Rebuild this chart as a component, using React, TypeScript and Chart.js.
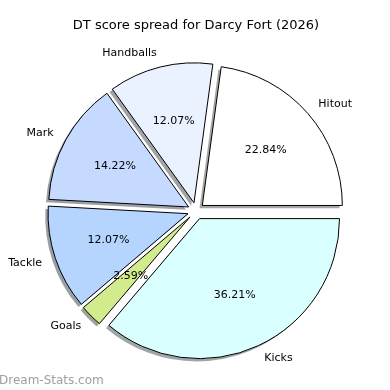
import React, { useEffect, useRef } from "react";
import { Chart, registerables } from "chart.js";

Chart.register(...registerables);

const TITLE = "DT score spread for Darcy Fort (2026)";
const WATERMARK = "Dream-Stats.com";
// clockwise on screen, starting at 3 o'clock
const categories = ["Kicks", "Goals", "Tackle", "Mark", "Handballs", "Hitout"];
const scores = [84, 6, 28, 33, 28, 53];
const sliceColors = ["#d9ffff", "#d2eb8c", "#b5d5ff", "#c6d9ff", "#eaf1ff", "#ffffff"];

const FONT = "'DejaVu Sans', Verdana, sans-serif";
const EXPLODE = 8.4;
const SHADOW_DX = -2.8;
const SHADOW_DY = 2.8;
const LABEL_DIST = 1.1;
const PCT_DIST = 0.6;

function shadowColor(hex: string): string {
  const n = parseInt(hex.slice(1), 16);
  const r = Math.round(((n >> 16) & 255) * 0.3);
  const g = Math.round(((n >> 8) & 255) * 0.3);
  const b = Math.round((n & 255) * 0.3);
  return `rgba(${r},${g},${b},0.5)`;
}

const explodedPie = {
  id: "explodedPie",
  beforeDatasetDraw(chart: any, args: any) {
    const ctx: CanvasRenderingContext2D = chart.ctx;
    const arcs = args.meta.data;
    arcs.forEach((arc: any, i: number) => {
      const { x, y, startAngle, endAngle, outerRadius } = arc.getProps(
        ["x", "y", "startAngle", "endAngle", "outerRadius"],
        true
      );
      const mid = (startAngle + endAngle) / 2;
      const cx = x + Math.cos(mid) * EXPLODE + SHADOW_DX;
      const cy = y + Math.sin(mid) * EXPLODE + SHADOW_DY;
      const col = shadowColor(sliceColors[i]);
      ctx.save();
      ctx.beginPath();
      ctx.moveTo(cx, cy);
      ctx.arc(cx, cy, outerRadius, startAngle, endAngle);
      ctx.closePath();
      ctx.fillStyle = col;
      ctx.fill();
      ctx.restore();
    });
    arcs.forEach((arc: any) => {
      const { startAngle, endAngle } = arc.getProps(["startAngle", "endAngle"], true);
      const mid = (startAngle + endAngle) / 2;
      ctx.save();
      ctx.translate(Math.cos(mid) * EXPLODE, Math.sin(mid) * EXPLODE);
      arc.draw(ctx);
      ctx.restore();
    });
    return false;
  },
  afterDatasetsDraw(chart: any) {
    const ctx: CanvasRenderingContext2D = chart.ctx;
    const meta = chart.getDatasetMeta(0);
    const total = scores.reduce((a, b) => a + b, 0);
    ctx.save();
    ctx.fillStyle = "#000";
    ctx.textBaseline = "middle";
    ctx.font = `11px ${FONT}`;
    meta.data.forEach((arc: any, i: number) => {
      const { x, y, startAngle, endAngle, outerRadius } = arc.getProps(
        ["x", "y", "startAngle", "endAngle", "outerRadius"],
        true
      );
      const mid = (startAngle + endAngle) / 2;
      const ex = x + Math.cos(mid) * EXPLODE;
      const ey = y + Math.sin(mid) * EXPLODE;
      const lx = ex + Math.cos(mid) * outerRadius * LABEL_DIST;
      const ly = ey + Math.sin(mid) * outerRadius * LABEL_DIST;
      ctx.textAlign = Math.cos(mid) > 0 ? "left" : "right";
      ctx.fillText(categories[i], lx, ly);
      const px = ex + Math.cos(mid) * outerRadius * PCT_DIST;
      const py = ey + Math.sin(mid) * outerRadius * PCT_DIST;
      ctx.textAlign = "center";
      ctx.fillText(((scores[i] / total) * 100).toFixed(2) + "%", px, py);
    });
    ctx.font = `12px ${FONT}`;
    ctx.fillStyle = "#a0a0a0";
    ctx.textAlign = "left";
    ctx.textBaseline = "alphabetic";
    ctx.fillText(WATERMARK, -1, 384);
    ctx.restore();
  },
};

export default function App() {
  const ref = useRef<HTMLCanvasElement>(null);
  useEffect(() => {
    if (!ref.current) return;
    const chart = new Chart(ref.current, {
      type: "pie",
      data: {
        labels: categories,
        datasets: [
          {
            data: scores,
            backgroundColor: sliceColors,
            borderColor: "#000",
            borderWidth: 1,
          },
        ],
      },
      options: {
        responsive: false,
        animation: false,
        rotation: 90,
        radius: 140,
        layout: { padding: { top: 0, bottom: 1.6, left: 2, right: 0 } },
        plugins: {
          legend: { display: false },
          tooltip: { enabled: false },
          title: {
            display: true,
            text: TITLE,
            color: "#000",
            font: { family: FONT, size: 13, weight: "normal" },
            padding: { top: 18, bottom: 0 },
          },
        },
      },
      plugins: [explodedPie],
    } as any);
    return () => chart.destroy();
  }, []);
  return (
    <div style={{ position: "absolute", left: 0, top: 0, width: 390, height: 390, background: "#fff" }}>
      <canvas ref={ref} width={390} height={390} />
    </div>
  );
}
